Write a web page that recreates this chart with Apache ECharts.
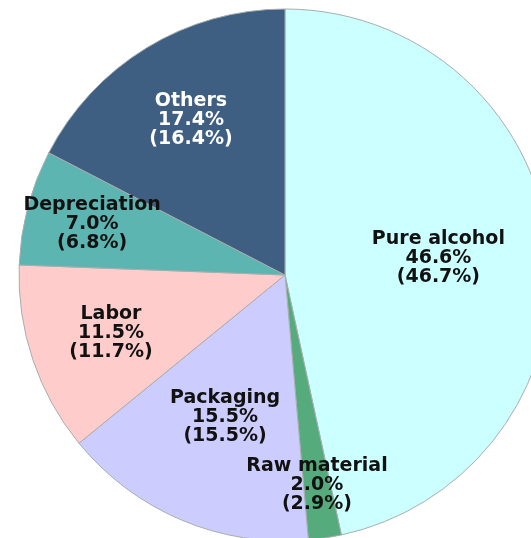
<!DOCTYPE html>
<html>
<head>
<meta charset="utf-8">
<script src="https://cdn.jsdelivr.net/npm/echarts@6/dist/echarts.min.js"></script>
<style>html,body{margin:0;padding:0;background:#fff;}#c{width:531px;height:538px;}</style>
</head>
<body>
<div id="c"></div>
<script>
const categories = ['Pure alcohol', 'Raw material', 'Packaging', 'Labor', 'Depreciation', 'Others'];
const currentShare = [46.6, 2.0, 15.5, 11.5, 7.0, 17.4];
const previousShare = [46.7, 2.9, 15.5, 11.7, 6.8, 16.4];
const colors = ['#ccffff', '#56ab7c', '#ccccff', '#ffcccc', '#5cb5b1', '#3e5f82'];
const labelColors = ['#111', '#111', '#111', '#111', '#111', '#ffffff'];
const labelRadiusFrac = [0.58, 0.80, 0.58, 0.69, 0.75, 0.68];

const CX = 285, CY = 275, R = 266;
const total = currentShare.reduce((a, b) => a + b, 0);
const midAngles = [];
let acc = 0;
currentShare.forEach(v => { midAngles.push((acc + v / 2) / total * Math.PI * 2); acc += v; });

const chart = echarts.init(document.getElementById('c'), null, {renderer: 'canvas'});
chart.setOption({
  backgroundColor: '#ffffff',
  animation: false,
  series: [{
    type: 'pie',
    center: [CX, CY],
    radius: [0, R],
    startAngle: 90,
    clockwise: true,
    avoidLabelOverlap: false,
    itemStyle: {borderColor: '#a9aeae', borderWidth: 1},
    label: {
      show: true,
      position: 'inside',
      fontFamily: 'DejaVu Sans',
      fontWeight: 'bold',
      fontSize: 19,
      lineHeight: 19,
      align: 'center',
      formatter: p => p.name + '\n' + currentShare[p.dataIndex].toFixed(1) + '%\n(' + previousShare[p.dataIndex].toFixed(1) + '%)'
    },
    labelLine: {show: false},
    labelLayout: p => {
      const a = midAngles[p.dataIndex];
      const d = R * labelRadiusFrac[p.dataIndex];
      return {x: CX + Math.sin(a) * d, y: CY - Math.cos(a) * d};
    },
    data: categories.map((name, i) => ({
      name: name,
      value: currentShare[i],
      itemStyle: {color: colors[i]},
      label: {color: labelColors[i]}
    }))
  }]
});
</script>
</body>
</html>
